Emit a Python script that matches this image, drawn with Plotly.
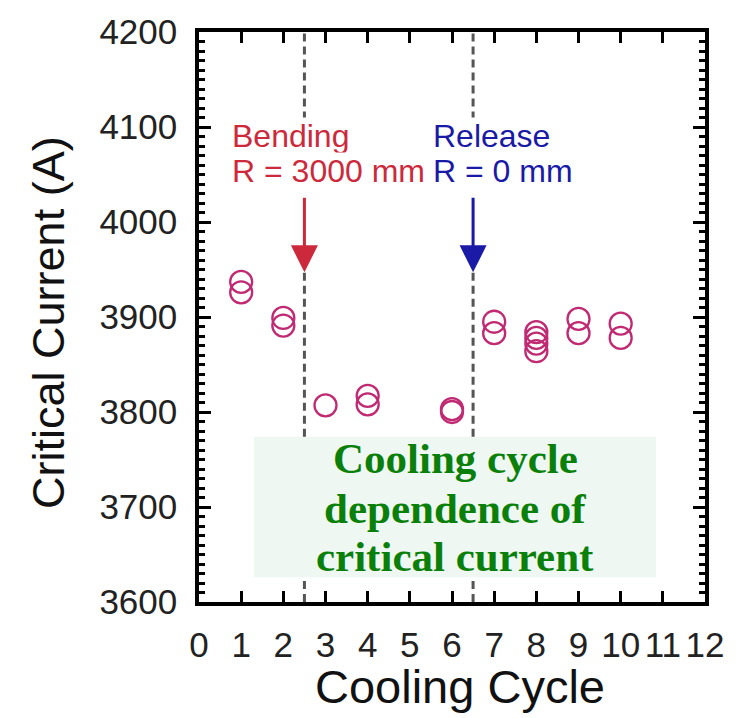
import plotly.graph_objects as go

# Data
cycles = [1, 1, 2, 2, 3, 4, 4, 6, 6, 7, 7, 8, 8, 8, 8, 9, 9, 10, 10]
current = [3937, 3926, 3899, 3891, 3807, 3817, 3808, 3803, 3800,
           3895, 3883, 3884, 3878, 3872, 3864, 3898, 3883, 3893, 3878]
event_x = [2.5, 6.5]
event_lines1 = ["Bending", "Release"]
event_lines2 = ["R = 3000 mm", "R = 0 mm"]
event_colors = ["#cc2a3c", "#1a1aa6"]
caption_lines = ["Cooling cycle", "dependence of", "critical current"]
x_ticks = list(range(0, 13))
y_ticks = list(range(3600, 4201, 100))

FONT = "Liberation Sans, Arial, sans-serif"

fig = go.Figure()

# green caption box (drawn below traces)
fig.add_shape(type="rect", xref="x", yref="y", x0=1.30, x1=10.84,
              y0=3626, y1=3774, fillcolor="#eef7f1", line=dict(width=0), layer="below")

# dashed event lines as a trace, in visible segments
segments = [(3600, 3626), (3774, 3950), (4108, 4200)]
lx_pts, ly_pts = [], []
for ex in event_x:
    for y0, y1 in segments:
        lx_pts += [ex, ex, None]
        ly_pts += [y0, y1, None]
fig.add_trace(go.Scatter(x=lx_pts, y=ly_pts, mode="lines", hoverinfo="skip",
                         line=dict(color="#555555", width=3, dash="8px,5px"),
                         showlegend=False))

fig.add_trace(go.Scatter(
    x=cycles, y=current, mode="markers",
    marker=dict(symbol="circle-open", size=22, color="#c02a72",
                line=dict(width=2.3, color="#c02a72")),
    showlegend=False))

# event labels and arrows
label_x = [0.77, 5.53]
for ex, lx, t1, t2, c in zip(event_x, label_x, event_lines1, event_lines2, event_colors):
    fig.add_annotation(x=lx, y=4091, xref="x", yref="y", text=t1, showarrow=False,
                       xanchor="left", yanchor="middle", bgcolor="white", borderpad=0,
                       font=dict(family=FONT, size=32, color=c))
    fig.add_annotation(x=lx, y=4054, xref="x", yref="y", text=t2, showarrow=False,
                       xanchor="left", yanchor="middle", bgcolor="white", borderpad=0,
                       font=dict(family=FONT, size=32, color=c))
    fig.add_annotation(x=ex, y=3947, ax=ex, ay=4027, xref="x", yref="y",
                       axref="x", ayref="y", text="", showarrow=True,
                       arrowhead=2, arrowsize=1.8, arrowwidth=3, arrowcolor=c)

caption_y = [0.2514, 0.1647, 0.0798]
for t, cy in zip(caption_lines, caption_y):
    fig.add_annotation(x=0.506, y=cy, xref="paper", yref="paper",
                       text="<b>" + t + "</b>", showarrow=False,
                       xanchor="center", yanchor="middle",
                       font=dict(family="Liberation Serif, Times New Roman, serif",
                                 size=43, color="#0a800a"))

# axis titles
fig.add_annotation(x=-0.298, y=0.49, xref="paper", yref="paper", text="Critical Current (A)",
                   showarrow=False, textangle=-90, xanchor="center", yanchor="middle",
                   font=dict(family=FONT, size=45, color="#111111"))
fig.add_annotation(x=0.516, y=-0.149, xref="paper", yref="paper", text="Cooling Cycle",
                   showarrow=False, xanchor="center", yanchor="middle",
                   font=dict(family=FONT, size=47, color="#111111"))

axis_common = dict(showline=True, linecolor="black", linewidth=3.5, mirror="ticks",
                   ticks="inside", tickcolor="black", tickwidth=3, showgrid=False,
                   zeroline=False, tickfont=dict(family=FONT, size=35, color="#222222"))

fig.update_xaxes(range=[0, 12], tickmode="array", tickvals=x_ticks,
                 ticktext=[str(v) for v in x_ticks], ticklen=11,
                 ticklabelstandoff=9, **axis_common)
fig.update_yaxes(range=[3600, 4200], tickmode="array", tickvals=y_ticks,
                 ticktext=[str(v) for v in y_ticks], ticklen=12,
                 minor=dict(dtick=10, ticks="inside", ticklen=6, tickwidth=2.5,
                            tickcolor="black", showgrid=False),
                 ticklabelstandoff=11, **axis_common)

fig.update_layout(width=736, height=718, margin=dict(l=199, r=21, t=25, b=116),
                  plot_bgcolor="white", paper_bgcolor="white")

fig.write_html("out.html")
